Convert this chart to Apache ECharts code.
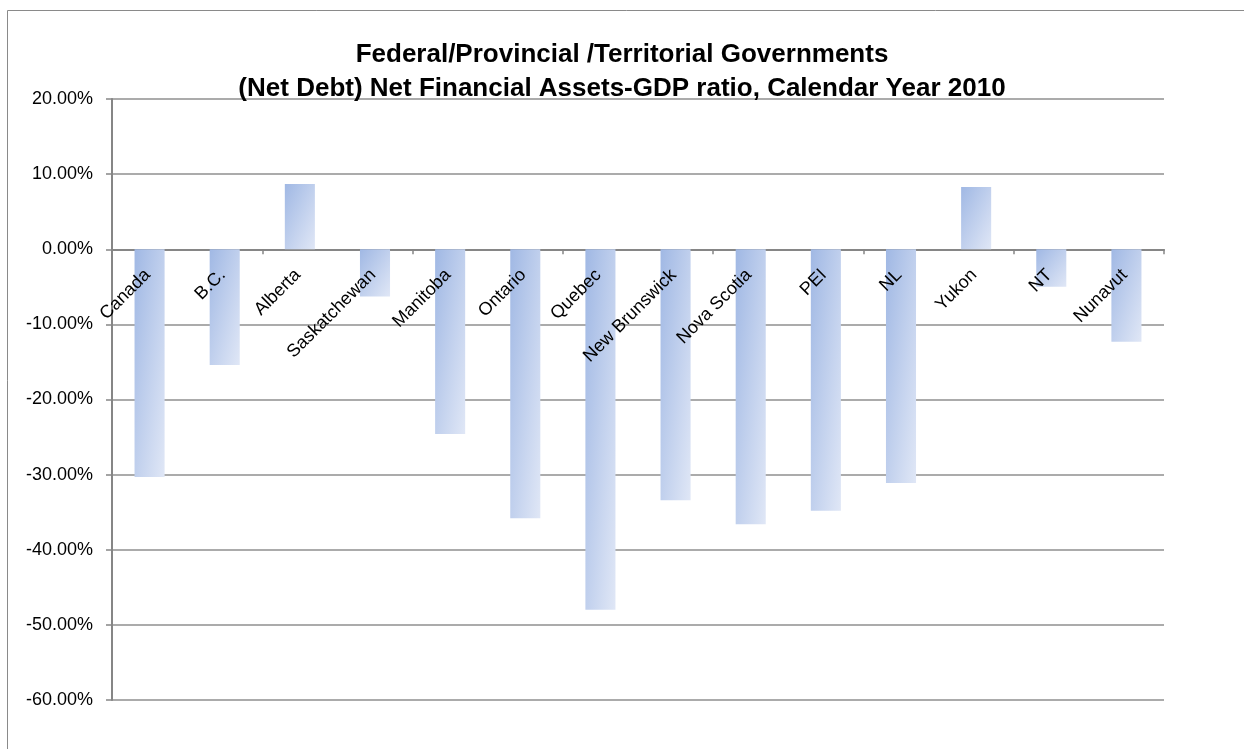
<!DOCTYPE html>
<html>
<head>
<meta charset="utf-8">
<script src="https://cdn.jsdelivr.net/npm/echarts@6/dist/echarts.min.js"></script>
<style>
  html, body { margin: 0; padding: 0; background: #ffffff; }
  #chart { width: 1244px; height: 749px; }
</style>
</head>
<body>
<div id="chart"></div>
<script>
// Net financial assets as a share of GDP, calendar year 2010 (percent)
const categories = ['Canada', 'B.C.', 'Alberta', 'Saskatchewan', 'Manitoba', 'Ontario', 'Quebec',
  'New Brunswick', 'Nova Scotia', 'PEI', 'NL', 'Yukon', 'NT', 'Nunavut'];
const ratioValues = [-30.3, -15.4, 8.7, -6.3, -24.6, -35.8, -48.0, -33.4, -36.6, -34.8, -31.1, 8.3, -5.0, -12.3];
const axisMin = -60;
const axisMax = 20;
const axisStep = 10;
const titleLines = ['Federal/Provincial /Territorial Governments',
  '(Net Debt) Net Financial Assets-GDP ratio, Calendar Year 2010'];

const FONT = '"Liberation Sans", Arial, sans-serif';
const BAR_WIDTH_RATIO = 0.4;

const chart = echarts.init(document.getElementById('chart'), null, { renderer: 'canvas' });

// Diagonal fill: dark at the top-left corner, light at the bottom-right,
// with colour bands running corner to corner (t = (u + v) / 2 in box space).
// w, h are the bar's pixel size.
function barFill(w, h) {
  const a = 1 / (w * w);
  const b = 1 / (h * h);
  return new echarts.graphic.LinearGradient(0, 0, 2 * a / (a + b), 2 * b / (a + b), [
    { offset: 0, color: '#a0b8e4' },
    { offset: 1, color: '#e0e7f6' }
  ]);
}

function renderCategoryLabel(params, api) {
  const p = api.coord([api.value(0), 0]);
  return {
    type: 'text',
    x: p[0] - 2,
    y: p[1] + 23,
    rotation: Math.PI / 4,
    style: {
      text: categories[params.dataIndex],
      fontFamily: FONT,
      fontSize: 18,
      fill: '#000000',
      align: 'right',
      verticalAlign: 'middle'
    },
    z2: 10
  };
}

chart.setOption({
  backgroundColor: '#ffffff',
  animation: false,
  title: {
    text: titleLines.join('\n'),
    left: 'center',
    top: 33,
    textStyle: {
      fontFamily: FONT,
      fontWeight: 'bold',
      fontSize: 26,
      lineHeight: 34,
      color: '#000000'
    }
  },
  graphic: [{
    type: 'rect',
    shape: { x: 7.5, y: 10.5, width: 1260, height: 800 },
    style: { fill: 'none', stroke: '#8a8a8a', lineWidth: 1 },
    silent: true,
    z: -1
  }],
  grid: { left: 112, right: 80, top: 99, bottom: 49, containLabel: false, outerBoundsMode: 'none' },
  xAxis: {
    type: 'category',
    data: categories,
    axisLine: { onZero: true, lineStyle: { color: '#868686', width: 2 } },
    axisTick: { show: true, length: 5, lineStyle: { color: '#868686', width: 1.5 } },
    axisLabel: { show: false },
    splitLine: { show: false }
  },
  yAxis: {
    type: 'value',
    min: axisMin,
    max: axisMax,
    interval: axisStep,
    axisLine: { show: true, lineStyle: { color: '#868686', width: 2 } },
    axisTick: { show: true, length: 6, lineStyle: { color: '#868686', width: 1.5 } },
    axisLabel: {
      margin: 19,
      fontFamily: FONT,
      fontSize: 18,
      color: '#000000',
      formatter: v => v.toFixed(2) + '%'
    },
    splitLine: { show: true, lineStyle: { color: '#8f8f8f', width: 1.5 } }
  },
  series: [{
    id: 'bars',
    type: 'bar',
    data: ratioValues,
    barWidth: (BAR_WIDTH_RATIO * 100) + '%',
    z: 3
  }, {
    type: 'custom',
    data: categories.map((name, i) => [i, 0]),
    renderItem: renderCategoryLabel,
    silent: true,
    z: 5
  }]
});

// Once the axes are laid out, size each bar's gradient from its pixel box.
const p0 = chart.convertToPixel({ gridIndex: 0 }, [0, 0]);
const p1 = chart.convertToPixel({ gridIndex: 0 }, [1, 0]);
const bandWidth = Math.abs(p1[0] - p0[0]);
const barData = ratioValues.map((v, i) => {
  const top = chart.convertToPixel({ gridIndex: 0 }, [i, v]);
  const zero = chart.convertToPixel({ gridIndex: 0 }, [i, 0]);
  const h = Math.max(Math.abs(top[1] - zero[1]), 1);
  return { value: v, itemStyle: { color: barFill(bandWidth * BAR_WIDTH_RATIO, h) } };
});
chart.setOption({ series: [{ id: 'bars', data: barData }] });
</script>
</body>
</html>
